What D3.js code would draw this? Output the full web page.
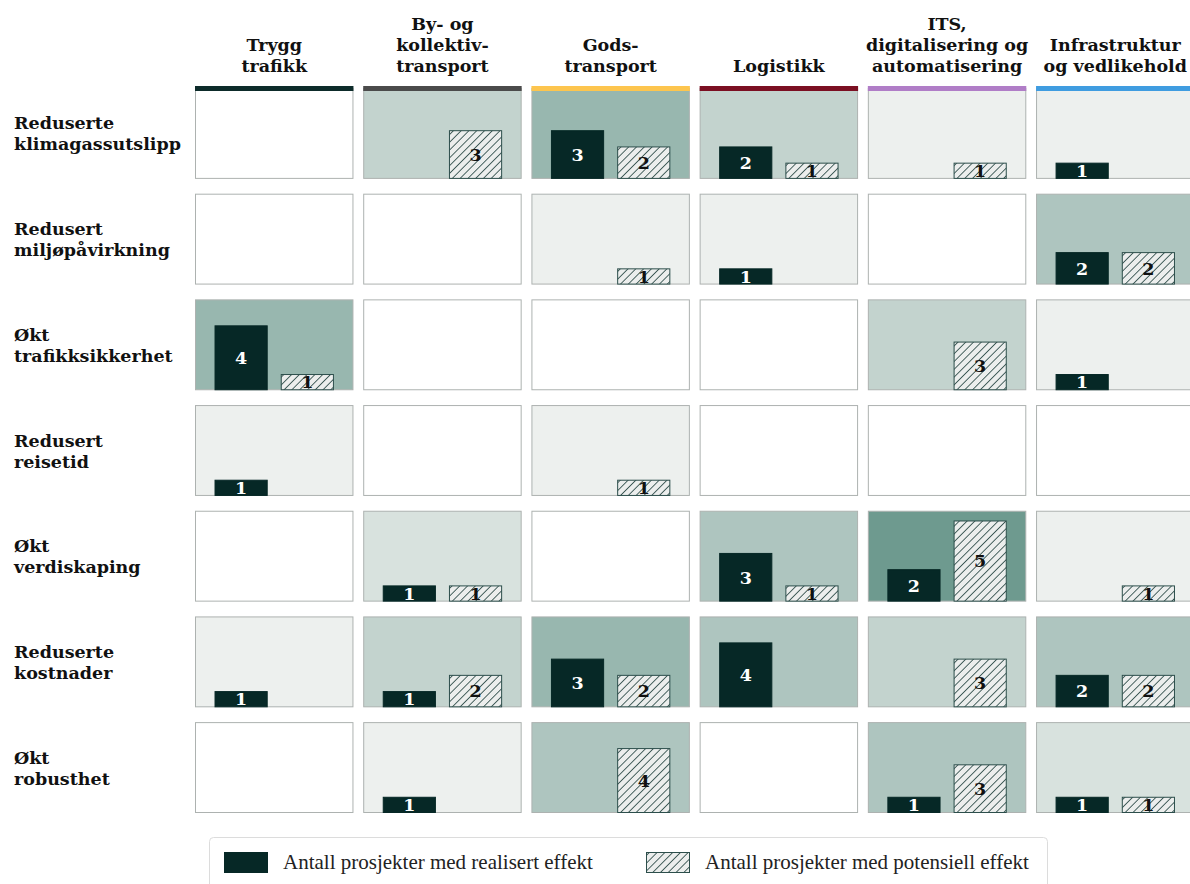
<!DOCTYPE html>
<html lang="no">
<head>
<meta charset="utf-8">
<script src="https://cdn.jsdelivr.net/npm/d3@7"></script>
<style>
  html, body { margin: 0; padding: 0; background: #ffffff; }
  svg { display: block; }
</style>
</head>
<body>
<svg id="chart" width="1190" height="884"></svg>
<script>
// Focus areas (columns) with their accent colours
const areas = ["Trygg trafikk", "By- og kollektivtransport", "Godstransport", "Logistikk",
  "ITS, digitalisering og automatisering", "Infrastruktur og vedlikehold"];
const areaLines = [["Trygg", "trafikk"], ["By- og", "kollektiv-", "transport"], ["Gods-", "transport"],
  ["Logistikk"], ["ITS,", "digitalisering og", "automatisering"], ["Infrastruktur", "og vedlikehold"]];
const areaColors = ["#0d2b2a", "#4b4b4b", "#fdc54e", "#7b0f22", "#b07dc7", "#3f9ce0"];

// Effect types (rows)
const effects = ["Reduserte klimagassutslipp", "Redusert miljøpåvirkning", "Økt trafikksikkerhet",
  "Redusert reisetid", "Økt verdiskaping", "Reduserte kostnader", "Økt robusthet"];
const effectLines = [["Reduserte", "klimagassutslipp"], ["Redusert", "miljøpåvirkning"],
  ["Økt", "trafikksikkerhet"], ["Redusert", "reisetid"], ["Økt", "verdiskaping"],
  ["Reduserte", "kostnader"], ["Økt", "robusthet"]];

// Number of projects with realised effect (rows = effects, cols = areas)
const realised = [
  [0, 0, 3, 2, 0, 1],
  [0, 0, 0, 1, 0, 2],
  [4, 0, 0, 0, 0, 1],
  [1, 0, 0, 0, 0, 0],
  [0, 1, 0, 3, 2, 0],
  [1, 1, 3, 4, 0, 2],
  [0, 1, 0, 0, 1, 1]
];
// Number of projects with potential effect
const potential = [
  [0, 3, 2, 1, 1, 0],
  [0, 0, 1, 0, 0, 2],
  [1, 0, 0, 0, 3, 0],
  [0, 0, 1, 0, 0, 0],
  [0, 1, 0, 1, 5, 1],
  [0, 2, 2, 0, 3, 2],
  [0, 0, 4, 0, 3, 1]
];

const seriesKeys = ["realisert", "potensiell"];
const legendLabels = ["Antall prosjekter med realisert effekt", "Antall prosjekter med potensiell effekt"];

const serif = "'DejaVu Serif', Georgia, serif";
const svg = d3.select("#chart");

const x = d3.scaleBand().domain(areas).range([195, 1194.5]).paddingInner(0.058).paddingOuter(0);
const y = d3.scaleBand().domain(effects).range([88, 813]).paddingInner(0.14).paddingOuter(0);
const inner = d3.scaleBand().domain(seriesKeys).range([0, x.bandwidth()]).paddingInner(0.197).paddingOuter(0.295);
const h = d3.scaleLinear().domain([0, 5.6]).range([0, y.bandwidth()]);
const fill = d3.scaleLinear().domain([1, 7]).range(["#edf0ee", "#6e9a8f"]).interpolate(d3.interpolateRgb);

// Diagonal hatching for potential effect
const defs = svg.append("defs");
const pat = defs.append("pattern").attr("id", "hatch").attr("patternUnits", "userSpaceOnUse")
  .attr("width", 5.5).attr("height", 5.5).attr("patternTransform", "rotate(45)");
pat.append("rect").attr("width", 5.5).attr("height", 5.5).attr("fill", "#eceeed");
pat.append("line").attr("x1", 0).attr("y1", 0).attr("x2", 0).attr("y2", 5.5)
  .attr("stroke", "#22413e").attr("stroke-width", 1.6);

// Cells
const cells = [];
effects.forEach((e, r) => areas.forEach((a, c) => {
  cells.push({ e, a, r, c, vals: [realised[r][c], potential[r][c]] });
}));

const g = svg.append("g").selectAll("g").data(cells).join("g")
  .attr("transform", d => `translate(${x(d.a)},${y(d.e)})`);

g.append("rect")
  .attr("x", 0.5).attr("y", 0.5)
  .attr("width", x.bandwidth() - 1).attr("height", y.bandwidth() - 1)
  .attr("fill", d => { const t = d.vals[0] + d.vals[1]; return t === 0 ? "#ffffff" : fill(t); })
  .attr("stroke", "#adb2b0").attr("stroke-width", 1);

const bars = g.selectAll("g.bar").data(d => seriesKeys.map((k, i) => ({ k, v: d.vals[i] })).filter(b => b.v > 0))
  .join("g").attr("class", "bar");

bars.append("rect")
  .attr("x", b => inner(b.k) + 0.5)
  .attr("y", b => y.bandwidth() - h(b.v) + 0.5)
  .attr("width", inner.bandwidth() - 1)
  .attr("height", b => h(b.v) - 1)
  .attr("fill", b => b.k === "realisert" ? "#062826" : "url(#hatch)")
  .attr("stroke", b => b.k === "realisert" ? "#062826" : "#2c4e4b")
  .attr("stroke-width", 1);

// Value labels, digit centred in the bar
bars.append("text")
  .attr("x", b => inner(b.k) + inner.bandwidth() / 2)
  .attr("y", b => y.bandwidth() - h(b.v) / 2 + 6.3)
  .attr("text-anchor", "middle")
  .attr("font-family", serif).attr("font-weight", "bold").attr("font-size", 17.5)
  .attr("fill", b => b.k === "realisert" ? "#ffffff" : "#111111")
  .text(b => b.v);

// Column header accent bars
svg.append("g").selectAll("rect").data(areas).join("rect")
  .attr("x", a => x(a)).attr("y", 86)
  .attr("width", x.bandwidth()).attr("height", 5)
  .attr("fill", (a, i) => areaColors[i]);

// Column headers, bottom-aligned
svg.append("g").selectAll("text").data(areas).join("text")
  .attr("x", a => x(a) + x.bandwidth() / 2)
  .attr("text-anchor", "middle")
  .attr("font-family", serif).attr("font-weight", "bold").attr("font-size", 17.5).attr("fill", "#111")
  .each(function (a, i) {
    const lines = areaLines[i];
    d3.select(this).selectAll("tspan").data(lines).join("tspan")
      .attr("x", x(a) + x.bandwidth() / 2)
      .attr("y", (l, j) => 72 - (lines.length - 1 - j) * 21)
      .text(l => l);
  });

// Row labels
svg.append("g").selectAll("text").data(effects).join("text")
  .attr("font-family", serif).attr("font-weight", "bold").attr("font-size", 17.5).attr("fill", "#111")
  .each(function (e, i) {
    const cy = y(e) + y.bandwidth() / 2;
    d3.select(this).selectAll("tspan").data(effectLines[i]).join("tspan")
      .attr("x", 14)
      .attr("y", (l, j) => cy - 4 + j * 21)
      .text(l => l);
  });

// Legend
const lg = svg.append("g");
lg.append("rect").attr("x", 209.5).attr("y", 837.5).attr("width", 838).attr("height", 60)
  .attr("rx", 4).attr("fill", "#ffffff").attr("stroke", "#dcdcdc");
const legendX = [224, 646];
seriesKeys.forEach((k, i) => {
  lg.append("rect").attr("x", legendX[i] + 0.5).attr("y", 852.5).attr("width", 43).attr("height", 20)
    .attr("fill", k === "realisert" ? "#062826" : "url(#hatch)")
    .attr("stroke", k === "realisert" ? "#062826" : "#2c4e4b");
  lg.append("text").attr("x", legendX[i] + 59).attr("y", 869)
    .attr("font-family", "'Liberation Serif', 'Times New Roman', serif").attr("font-size", 21)
    .attr("fill", "#222").text(legendLabels[i]);
});
</script>
</body>
</html>
